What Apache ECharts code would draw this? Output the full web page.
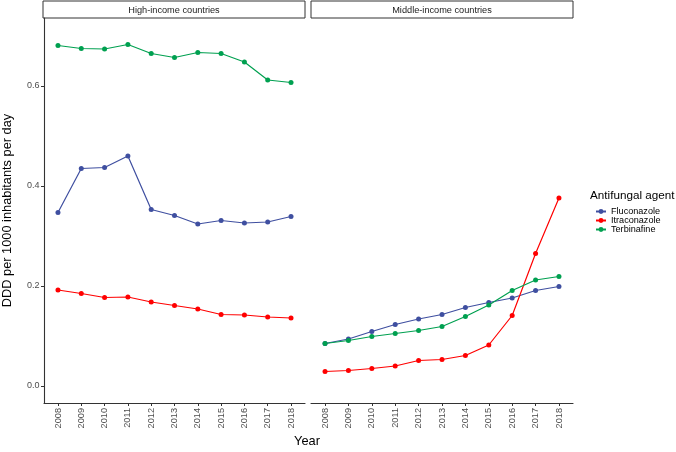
<!DOCTYPE html>
<html><head><meta charset="utf-8">
<script src="https://cdn.jsdelivr.net/npm/echarts@6/dist/echarts.min.js"></script>
<style>html,body{margin:0;padding:0;background:#fff}#c{width:676px;height:452px}</style>
</head><body><div id="c"></div>
<script>
const years = [2008,2009,2010,2011,2012,2013,2014,2015,2016,2017,2018];
const yTicks = [0.0,0.2,0.4,0.6];
const panels = ['High-income countries','Middle-income countries'];
const agents = ['Fluconazole','Itraconazole','Terbinafine'];
const colors = ['#3F4FA0','#FF0000','#00A050'];
// High-income
const highFlu = [0.347,0.435,0.437,0.460,0.353,0.341,0.324,0.331,0.326,0.328,0.339];
const highItr = [0.192,0.185,0.177,0.178,0.168,0.161,0.154,0.143,0.142,0.138,0.136];
const highTer = [0.681,0.675,0.674,0.683,0.665,0.657,0.667,0.665,0.648,0.612,0.607];
// Middle-income
const midFlu = [0.085,0.094,0.109,0.123,0.134,0.143,0.157,0.167,0.176,0.191,0.199];
const midItr = [0.029,0.031,0.035,0.040,0.051,0.053,0.061,0.082,0.141,0.265,0.376];
const midTer = [0.085,0.091,0.099,0.105,0.111,0.119,0.139,0.162,0.191,0.212,0.219];

const grids = [{left:43,top:18,width:262,height:385},{left:311,top:18,width:262,height:385}];
const txt = '#4D4D4D';
const ff = 'Liberation Sans';
function xAxis(i){return {type:'value',gridIndex:i,min:2007.4,max:2018.6,
  axisLine:{onZero:false,lineStyle:{color:'#333',width:1.1}},
  axisTick:{customValues:years,length:3,lineStyle:{color:'#333'}},
  axisLabel:{customValues:years,rotate:90,color:txt,fontSize:9.2,fontFamily:ff,margin:5,formatter:v=>String(v)},
  splitLine:{show:false}};}
function yAxis(i){return {type:'value',gridIndex:i,min:-0.034,max:0.736,
  axisLine:{show:i===0,onZero:false,lineStyle:{color:'#333',width:1.1}},
  axisTick:{show:i===0,customValues:yTicks,length:3,lineStyle:{color:'#333'}},
  axisLabel:{show:i===0,customValues:yTicks,color:txt,fontSize:9,fontFamily:ff,margin:4.5,formatter:v=>v.toFixed(1)},
  splitLine:{show:false},
  name:i===0?'DDD per 1000 inhabitants per day':'',nameLocation:'middle',nameGap:30,
  nameTextStyle:{fontSize:12.8,color:'#000',fontFamily:ff}};}
const dataSets = [[highFlu,highItr,highTer],[midFlu,midItr,midTer]];
const series = [];
for(let p=0;p<2;p++){for(let a=0;a<3;a++){
  series.push({type:'line',name:agents[a],xAxisIndex:p,yAxisIndex:p,
    data:years.map((y,k)=>[y,dataSets[p][a][k]]),
    symbol:'circle',symbolSize:5,showSymbol:true,
    lineStyle:{color:colors[a],width:1.2},itemStyle:{color:colors[a]},
    emphasis:{disabled:true},animation:false});
}}
const chart = echarts.init(document.getElementById('c'),null,{renderer:'canvas'});
chart.setOption({
  animation:false,
  grid:grids,
  xAxis:[xAxis(0),xAxis(1)],
  yAxis:[yAxis(0),yAxis(1)],
  series:series,
  legend:{data:agents,orient:'vertical',left:590,top:202,itemWidth:10,itemHeight:6,itemGap:0,
    textStyle:{fontSize:9.1,color:'#000',fontFamily:ff,lineHeight:8.7}},
  graphic:[
    {type:'rect',shape:{x:43,y:1,width:262,height:17},style:{fill:'#fff',stroke:'#333',lineWidth:1}},
    {type:'rect',shape:{x:311,y:1,width:262,height:17},style:{fill:'#fff',stroke:'#333',lineWidth:1}},
    {type:'text',x:174,y:10,style:{text:panels[0],fill:'#1A1A1A',fontSize:9.2,fontFamily:ff,align:'center',verticalAlign:'middle'}},
    {type:'text',x:442,y:10,style:{text:panels[1],fill:'#1A1A1A',fontSize:9.2,fontFamily:ff,align:'center',verticalAlign:'middle'}},
    {type:'text',x:307,y:441,style:{text:'Year',fill:'#000',fontSize:12.8,fontFamily:ff,align:'center',verticalAlign:'middle'}},
    {type:'text',x:590,y:196,style:{text:'Antifungal agent',fill:'#000',fontSize:11.7,fontFamily:ff,align:'left',verticalAlign:'middle'}}
  ]
});
</script></body></html>
